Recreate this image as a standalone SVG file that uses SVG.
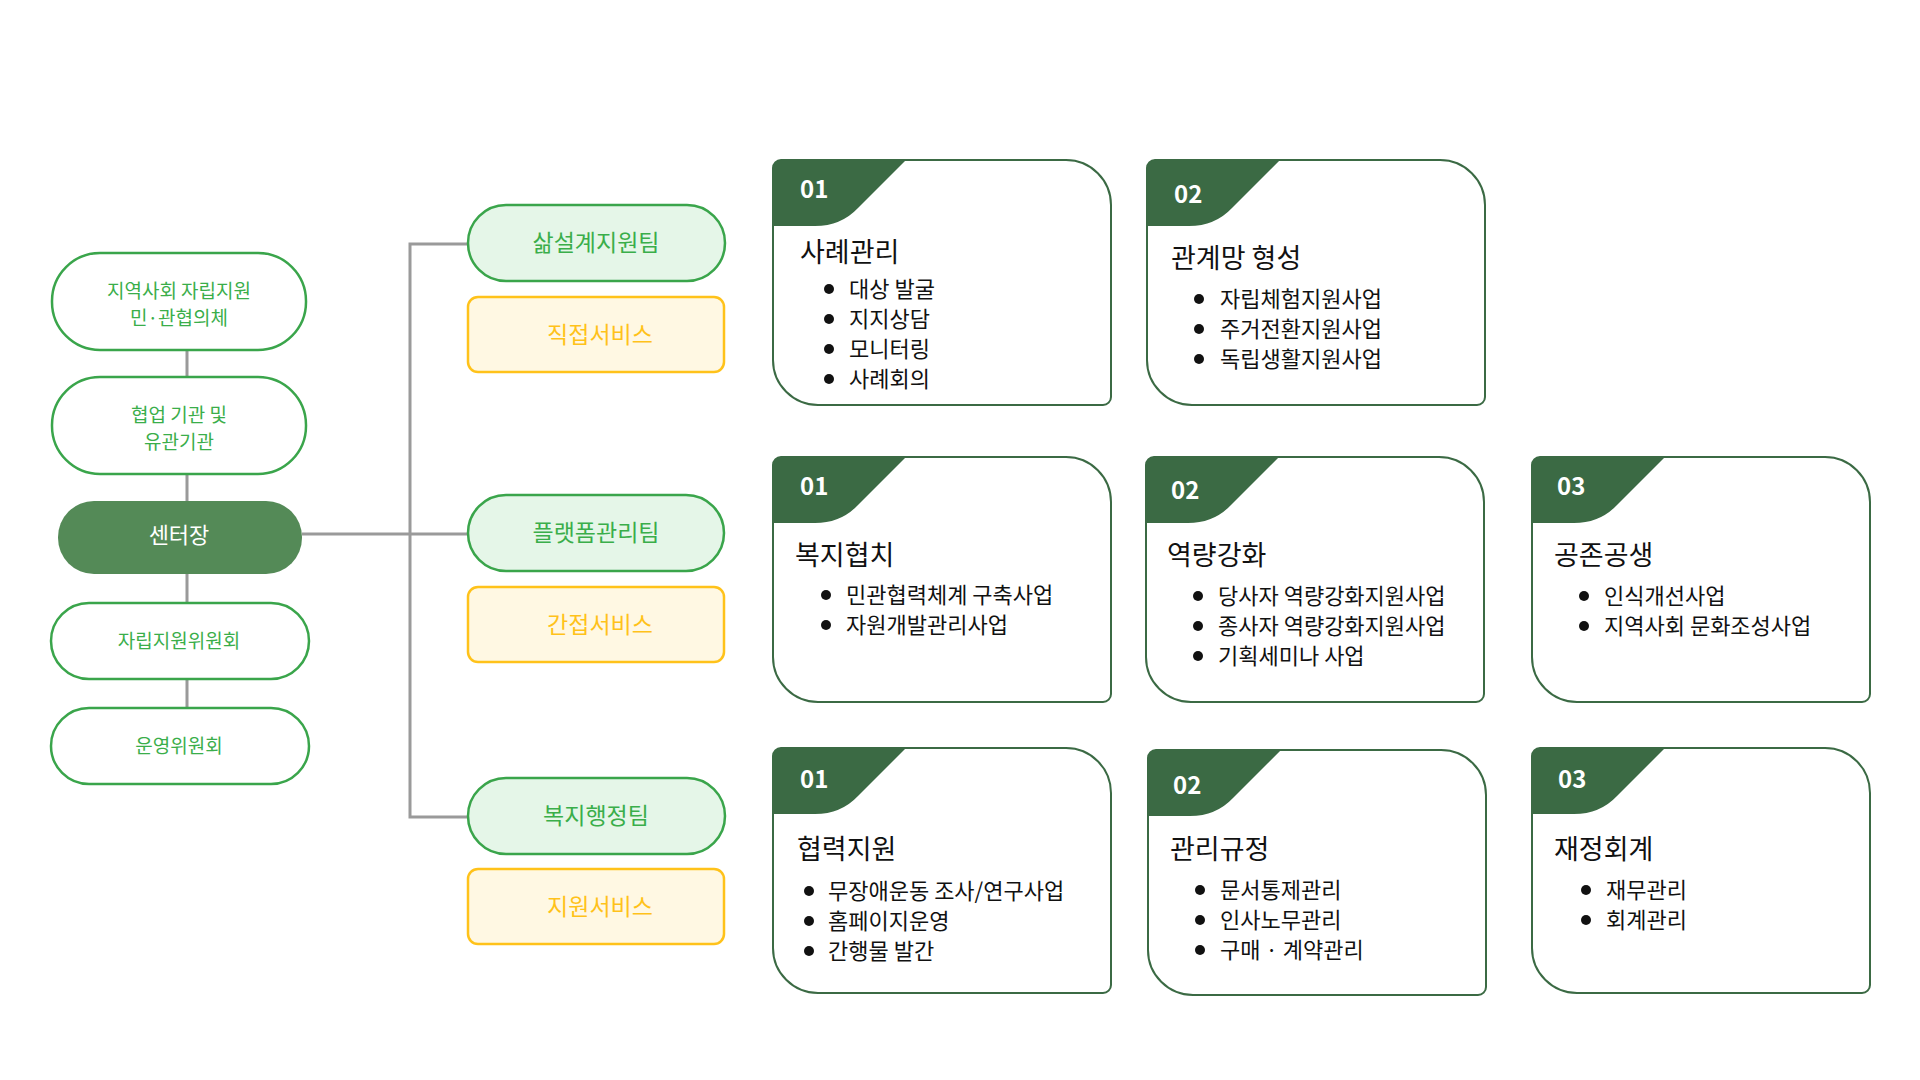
<svg xmlns="http://www.w3.org/2000/svg" width="1920" height="1080" viewBox="0 0 1920 1080">
<style>
text{font-family:"Noto Sans CJK KR","Noto Sans",sans-serif}
.pill{fill:#fff;stroke:#3aa54b;stroke-width:2.5}
.pt{fill:#3aae4a;font-size:19px;text-anchor:middle}
.team{fill:#e5f6e8;stroke:#3aa54b;stroke-width:2.5}
.tt{fill:#3aae4a;font-size:23px;text-anchor:middle}
.svc{fill:#fff8e3;stroke:#ffc21a;stroke-width:2.5}
.st{fill:#ffc21a;font-size:23px;text-anchor:middle}
.conn{stroke:#9a9a9a;stroke-width:3;fill:none}
.card{fill:#fff;stroke:#3b6a44;stroke-width:2}
.tab{fill:#3b6a44}
.num{fill:#fff;font-size:24px;font-weight:bold}
.ttl{fill:#111;font-size:27px}
.it{fill:#111;font-size:22px}
</style>
<defs>
<path id="cardshape" d="M8,0 H293 A45,45 0 0 1 338,45 V237 A8,8 0 0 1 330,245 H45 A45,45 0 0 1 0,200 V8 A8,8 0 0 1 8,0 Z"/>
<path id="tabshape" d="M8,0 H133 L85,48 Q68,66 42,66 H0 V8 A8,8 0 0 1 8,0 Z"/>
</defs>
<g id="connectors">
<line class="conn" x1="187" y1="351" x2="187" y2="708"/>
<polyline class="conn" points="302,534 468,534"/>
<polyline class="conn" points="468,244 410,244 410,817 468,817"/>
</g>
<g id="n1"><rect class="pill" x="52" y="253" width="254" height="97" rx="48"/><text class="pt" x="179" y="298">지역사회 자립지원</text><text class="pt" x="179" y="325">민·관협의체</text></g>
<g id="n2"><rect class="pill" x="52" y="377" width="254" height="97" rx="48"/><text class="pt" x="179" y="422">협업 기관 및</text><text class="pt" x="179" y="449">유관기관</text></g>
<g id="n3"><rect x="58" y="501" width="244" height="73" rx="36" fill="#548a57"/><text x="179" y="543" fill="#fff" font-size="22" text-anchor="middle">센터장</text></g>
<g id="n4"><rect class="pill" x="51" y="603" width="258" height="76" rx="38"/><text class="pt" x="179" y="648">자립지원위원회</text></g>
<g id="n5"><rect class="pill" x="51" y="708" width="258" height="76" rx="38"/><text class="pt" x="179" y="753">운영위원회</text></g>
<g id="t1"><rect class="team" x="468" y="205" width="257" height="76" rx="38"/><text class="tt" x="596" y="251">삶설계지원팀</text></g>
<g id="s1"><rect class="svc" x="468" y="297" width="256" height="75" rx="10"/><text class="st" x="600" y="343">직접서비스</text></g>
<g id="t2"><rect class="team" x="468" y="495" width="256" height="76" rx="38"/><text class="tt" x="596" y="541">플랫폼관리팀</text></g>
<g id="s2"><rect class="svc" x="468" y="587" width="256" height="75" rx="10"/><text class="st" x="600" y="633">간접서비스</text></g>
<g id="t3"><rect class="team" x="468" y="778" width="257" height="76" rx="38"/><text class="tt" x="596" y="824">복지행정팀</text></g>
<g id="s3"><rect class="svc" x="468" y="869" width="256" height="75" rx="10"/><text class="st" x="600" y="915">지원서비스</text></g>

<g id="c11" transform="translate(773,160)"><use href="#cardshape" class="card"/><use href="#tabshape" class="tab"/><text class="num" x="27" y="38">01</text><text class="ttl" x="27" y="102">사례관리</text>
<g class="it"><circle cx="56" cy="129" r="5"/><text x="76" y="137">대상 발굴</text><circle cx="56" cy="159" r="5"/><text x="76" y="167">지지상담</text><circle cx="56" cy="189" r="5"/><text x="76" y="197">모니터링</text><circle cx="56" cy="219" r="5"/><text x="76" y="227">사례회의</text></g></g>
<g id="c12" transform="translate(1147,160)"><use href="#cardshape" class="card"/><use href="#tabshape" class="tab"/><text class="num" x="27" y="43">02</text><text class="ttl" x="24" y="108">관계망 형성</text>
<g class="it"><circle cx="52" cy="139" r="5"/><text x="73" y="147">자립체험지원사업</text><circle cx="52" cy="169" r="5"/><text x="73" y="177">주거전환지원사업</text><circle cx="52" cy="199" r="5"/><text x="73" y="207">독립생활지원사업</text></g></g>

<g id="c21" transform="translate(773,457)"><use href="#cardshape" class="card"/><use href="#tabshape" class="tab"/><text class="num" x="27" y="38">01</text><text class="ttl" x="22" y="108">복지협치</text>
<g class="it"><circle cx="53" cy="138" r="5"/><text x="73" y="146">민관협력체계 구축사업</text><circle cx="53" cy="168" r="5"/><text x="73" y="176">자원개발관리사업</text></g></g>
<g id="c22" transform="translate(1146,457)"><use href="#cardshape" class="card"/><use href="#tabshape" class="tab"/><text class="num" x="25" y="42">02</text><text class="ttl" x="21" y="108">역량강화</text>
<g class="it"><circle cx="52" cy="139" r="5"/><text x="72" y="147">당사자 역량강화지원사업</text><circle cx="52" cy="169" r="5"/><text x="72" y="177">종사자 역량강화지원사업</text><circle cx="52" cy="199" r="5"/><text x="72" y="207">기획세미나 사업</text></g></g>
<g id="c23" transform="translate(1532,457)"><use href="#cardshape" class="card"/><use href="#tabshape" class="tab"/><text class="num" x="25" y="38">03</text><text class="ttl" x="22" y="108">공존공생</text>
<g class="it"><circle cx="52" cy="139" r="5"/><text x="72" y="147">인식개선사업</text><circle cx="52" cy="169" r="5"/><text x="72" y="177">지역사회 문화조성사업</text></g></g>

<g id="c31" transform="translate(773,748)"><use href="#cardshape" class="card"/><use href="#tabshape" class="tab"/><text class="num" x="27" y="40">01</text><text class="ttl" x="24" y="111">협력지원</text>
<g class="it"><circle cx="36" cy="143" r="5"/><text x="55" y="151">무장애운동 조사/연구사업</text><circle cx="36" cy="173" r="5"/><text x="55" y="181">홈페이지운영</text><circle cx="36" cy="203" r="5"/><text x="55" y="211">간행물 발간</text></g></g>
<g id="c32" transform="translate(1148,750)"><use href="#cardshape" class="card"/><use href="#tabshape" class="tab"/><text class="num" x="25" y="44">02</text><text class="ttl" x="22" y="109">관리규정</text>
<g class="it"><circle cx="52" cy="140" r="5"/><text x="72" y="148">문서통제관리</text><circle cx="52" cy="170" r="5"/><text x="72" y="178">인사노무관리</text><circle cx="52" cy="200" r="5"/><text x="72" y="208">구매 · 계약관리</text></g></g>
<g id="c33" transform="translate(1532,748)"><use href="#cardshape" class="card"/><use href="#tabshape" class="tab"/><text class="num" x="26" y="40">03</text><text class="ttl" x="22" y="111">재정회계</text>
<g class="it"><circle cx="54" cy="142" r="5"/><text x="74" y="150">재무관리</text><circle cx="54" cy="172" r="5"/><text x="74" y="180">회계관리</text></g></g>
</svg>
